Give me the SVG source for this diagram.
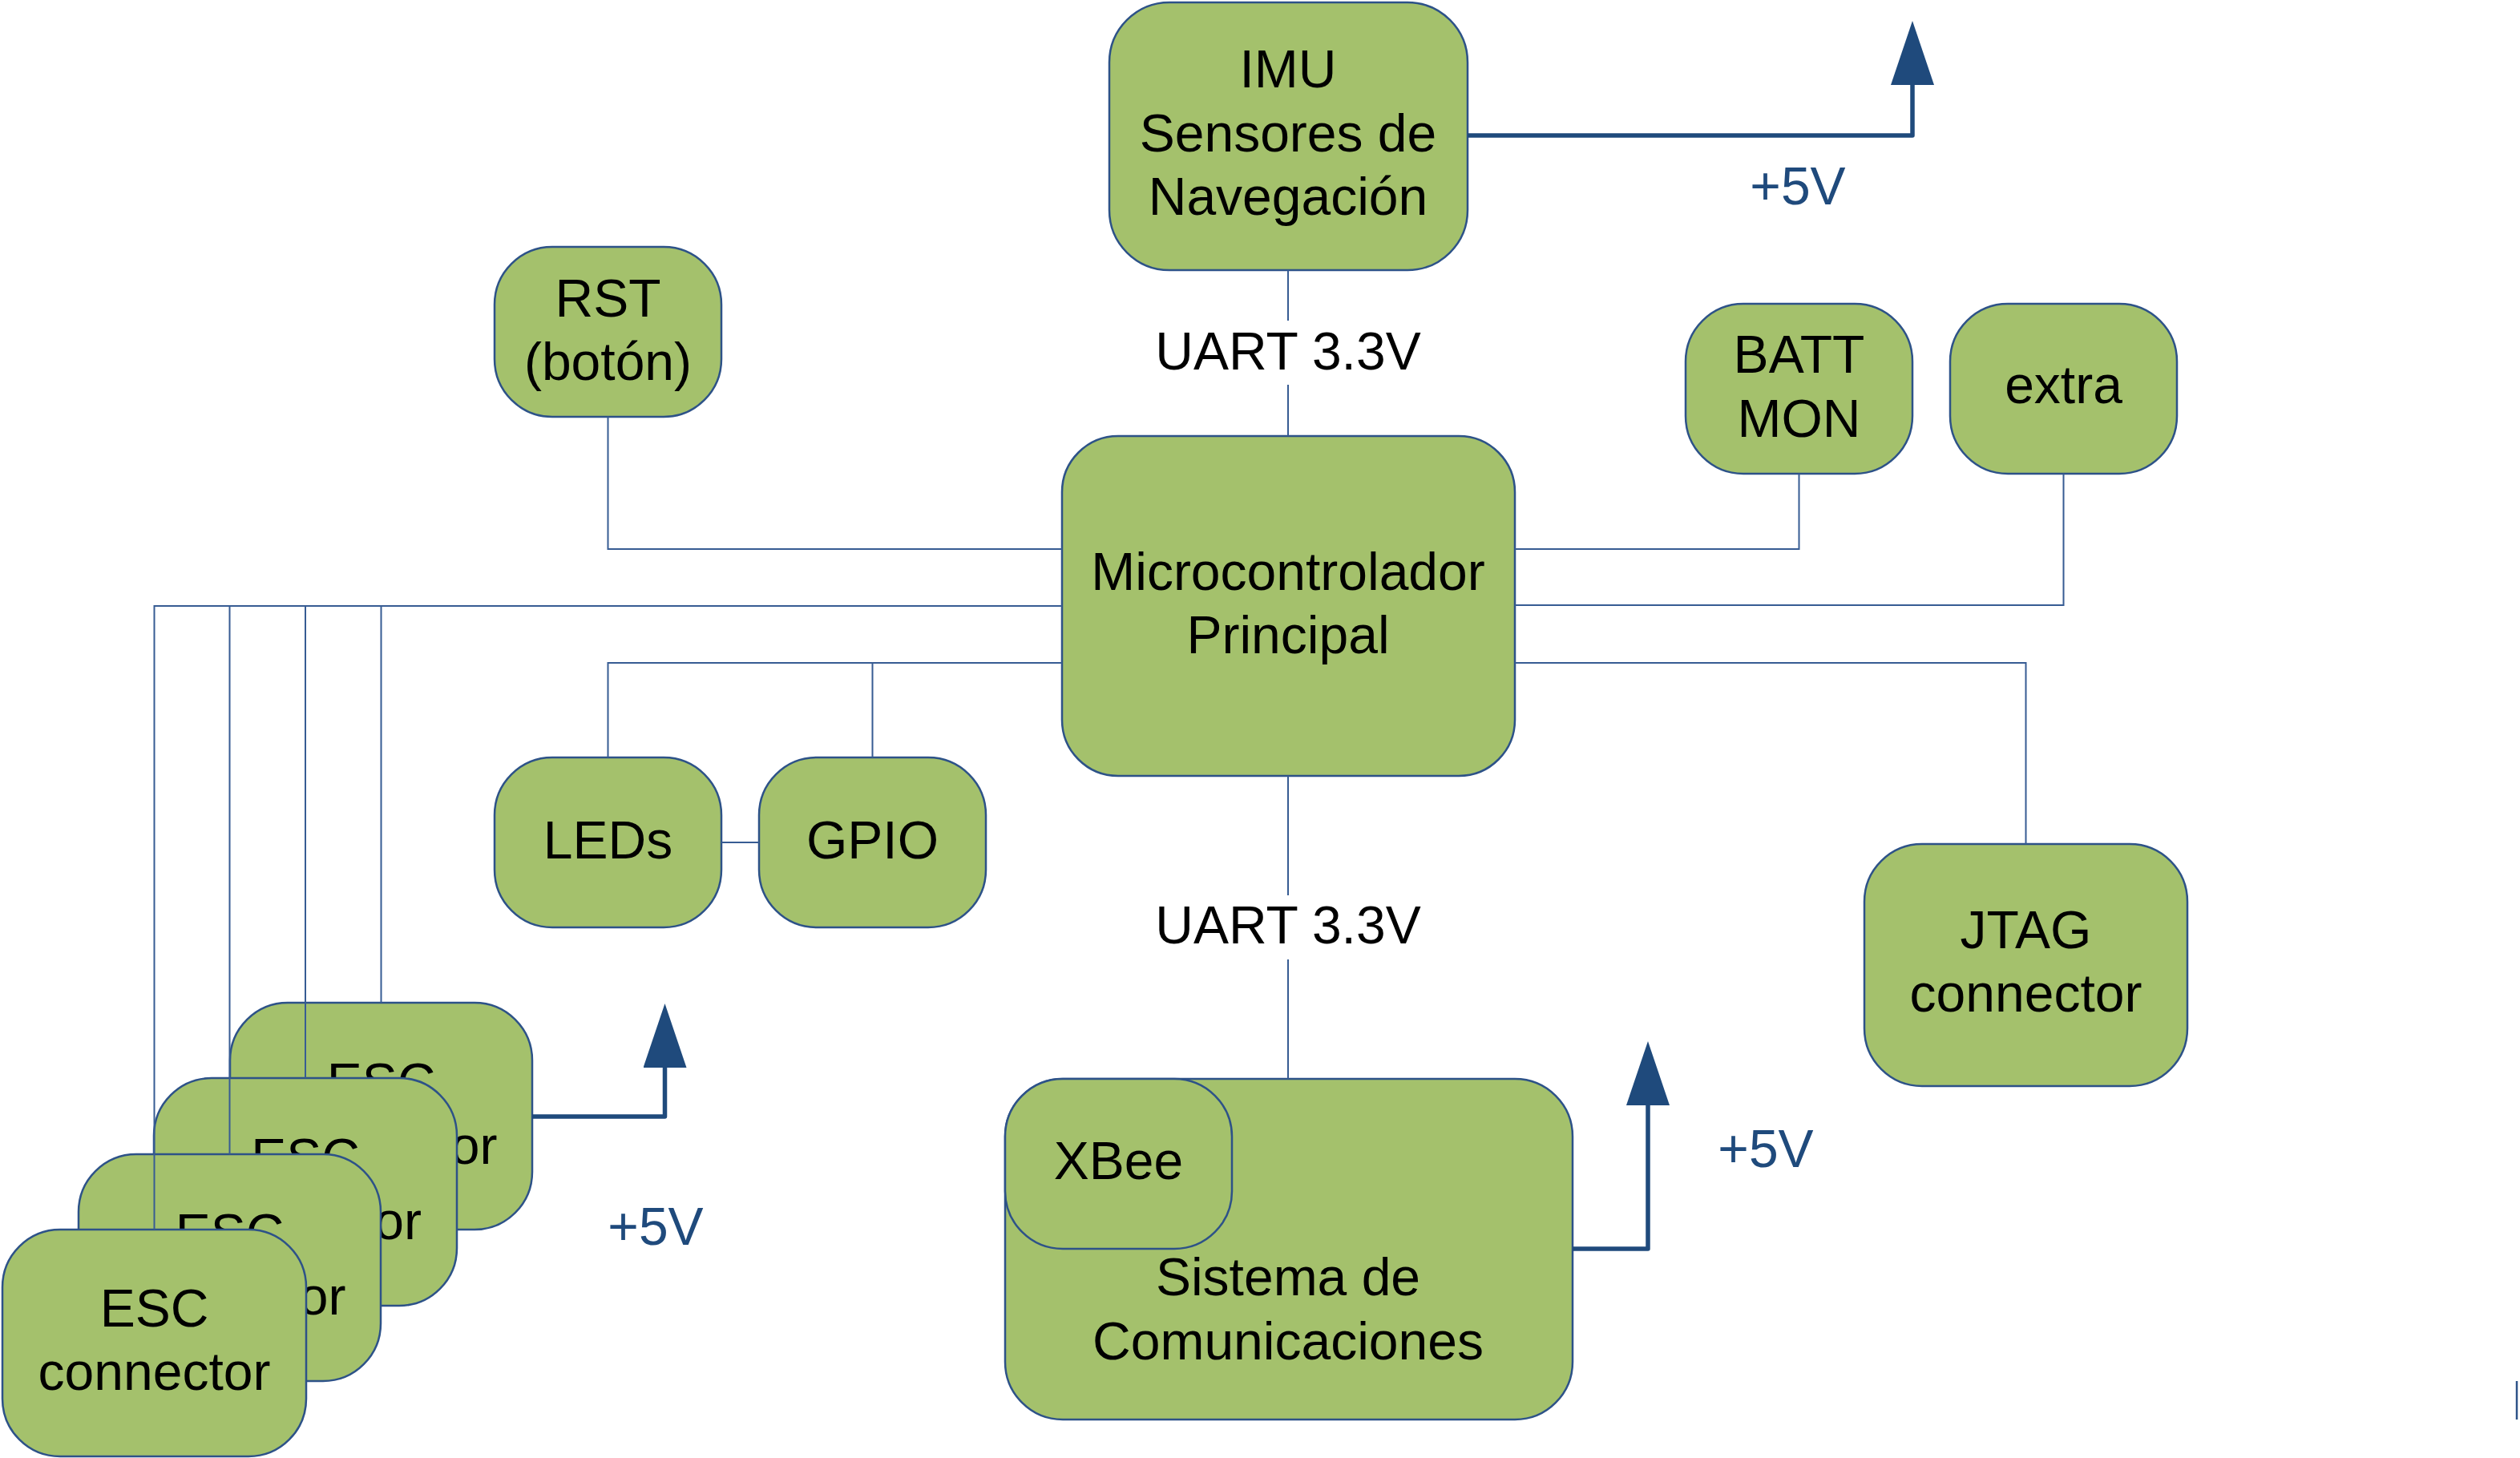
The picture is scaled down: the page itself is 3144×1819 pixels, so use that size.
<svg xmlns="http://www.w3.org/2000/svg" width="3144" height="1819" viewBox="0 0 3144 1819">
<defs>
<style>
.box{fill:#a4c16c;stroke:#2d5288;stroke-width:2.5}
.t{font-family:"Liberation Sans",Arial,sans-serif;font-size:66px;fill:#000;text-anchor:middle}
.v{font-family:"Liberation Sans",Arial,sans-serif;font-size:66px;fill:#1f4a7c;text-anchor:middle}
.w{fill:none;stroke:#375c93;stroke-width:2}
.p{fill:none;stroke:#1f4a7c;stroke-width:5.5;stroke-linejoin:round}
</style>
<marker id="arr" viewBox="0 0 80 54" markerWidth="80" markerHeight="54" markerUnits="userSpaceOnUse" orient="auto" refX="0" refY="27">
<polygon points="0,0 80,27 0,54" fill="#1f4a7c"/>
</marker>
</defs>
<rect width="3144" height="1819" fill="#fff"/>

<g id="imu"><rect class="box" x="1384" y="3" width="447" height="334" rx="75" ry="75"/>
<text class="t" x="1607" y="109">IMU</text><text class="t" x="1607" y="189">Sensores de</text><text class="t" x="1607" y="268">Navegación</text></g>

<g id="rst"><rect class="box" x="617" y="308" width="283" height="212" rx="72" ry="72"/>
<text class="t" x="758.5" y="395">RST</text><text class="t" x="758.5" y="474">(botón)</text></g>

<g id="batt"><rect class="box" x="2103" y="379" width="283" height="212" rx="72" ry="72"/>
<text class="t" x="2244.5" y="465">BATT</text><text class="t" x="2244.5" y="545">MON</text></g>

<g id="extra"><rect class="box" x="2433" y="379" width="283" height="212" rx="72" ry="72"/>
<text class="t" x="2574.5" y="503">extra</text></g>

<g id="micro"><rect class="box" x="1325" y="544" width="565" height="424" rx="70" ry="70"/>
<text class="t" x="1607" y="736">Microcontrolador</text><text class="t" x="1607" y="815">Principal</text></g>

<g id="leds"><rect class="box" x="617" y="945" width="283" height="212" rx="72" ry="72"/>
<text class="t" x="758.5" y="1071">LEDs</text></g>

<g id="gpio"><rect class="box" x="947" y="945" width="283" height="212" rx="72" ry="72"/>
<text class="t" x="1088.5" y="1071">GPIO</text></g>

<g id="jtag"><rect class="box" x="2326" y="1053" width="403" height="302" rx="72" ry="72"/>
<text class="t" x="2527.5" y="1183">JTAG</text><text class="t" x="2527.5" y="1262">connector</text></g>

<g id="comms"><rect class="box" x="1254" y="1346" width="708" height="425" rx="72" ry="72"/>
<text class="t" x="1607" y="1616">Sistema de</text><text class="t" x="1607" y="1696">Comunicaciones</text></g>

<g id="xbee"><rect class="box" x="1254" y="1346" width="283" height="212" rx="72" ry="72"/>
<text class="t" x="1395.5" y="1471">XBee</text></g>

<g id="esc4"><rect class="box" x="287" y="1251" width="377" height="283" rx="72" ry="72"/>
<text class="t" x="475.5" y="1373">ESC</text><text class="t" x="475.5" y="1452">connector</text></g>
<g id="esc3"><rect class="box" x="192" y="1345" width="378" height="284" rx="72" ry="72"/>
<text class="t" x="381" y="1467">ESC</text><text class="t" x="381" y="1546">connector</text></g>
<g id="esc2"><rect class="box" x="98" y="1440" width="377" height="283" rx="72" ry="72"/>
<text class="t" x="286.5" y="1561">ESC</text><text class="t" x="286.5" y="1640">connector</text></g>
<g id="esc1"><rect class="box" x="3" y="1534" width="379" height="283" rx="72" ry="72"/>
<text class="t" x="192.5" y="1655">ESC</text><text class="t" x="192.5" y="1734">connector</text></g>

<g id="connectors">
<path class="w" d="M1607,337 V400 M1607,480 V544"/>
<path class="w" d="M1607,968 V1117 M1607,1197 V1346"/>
<path class="w" d="M758.5,520 V685 H1325"/>
<path class="w" d="M2244.5,591 V685 H1890"/>
<path class="w" d="M2574.5,591 V755 H1890"/>
<path class="w" d="M1890,827 H2527.5 V1053"/>
<path class="w" d="M1325,827 H758.5 V945 M1088.5,827 V945"/>
<path class="w" d="M900,1051 H947"/>
<path class="w" d="M1325,756 H192.5 V1534 M286.5,756 V1440 M381,756 V1345 M475.5,756 V1251"/>
<path class="p" d="M1831,169 H2386 V106" marker-end="url(#arr)"/>
<path class="p" d="M664,1393 H829.5 V1332" marker-end="url(#arr)"/>
<path class="p" d="M1962,1558 H2056 V1379" marker-end="url(#arr)"/>
</g>

<g id="labels">
<text class="t" x="1607" y="461">UART 3.3V</text>
<text class="t" x="1607" y="1177">UART 3.3V</text>
<text class="v" x="2243" y="255">+5V</text>
<text class="v" x="818" y="1553">+5V</text>
<text class="v" x="2203" y="1456">+5V</text>
</g>
<line x1="3140" y1="1723" x2="3140" y2="1771" stroke="#2d5288" stroke-width="2.5"/>
</svg>
